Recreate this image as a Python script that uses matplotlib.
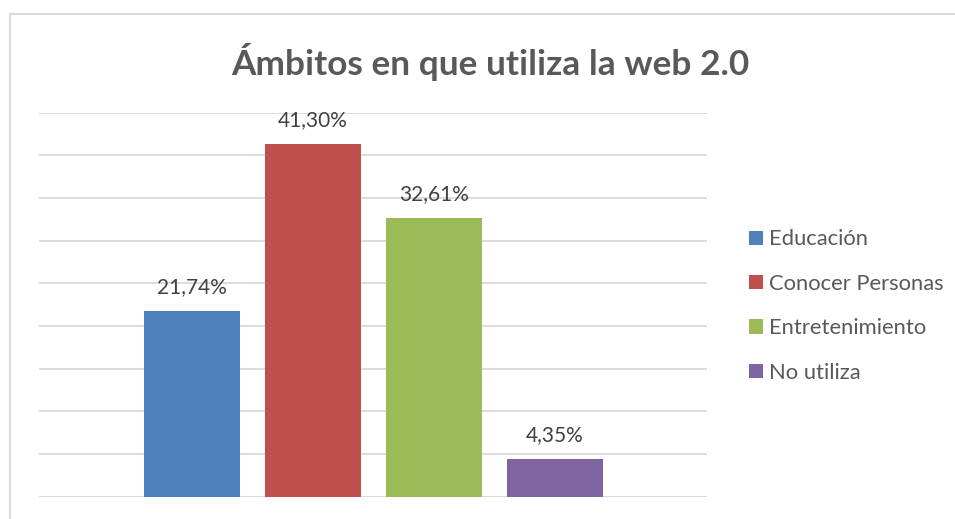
import matplotlib.pyplot as plt
from matplotlib.patches import Rectangle

categorias = ["Educación", "Conocer Personas", "Entretenimiento", "No utiliza"]
valores = [21.74, 41.30, 32.61, 4.35]
etiquetas = ["21,74%", "41,30%", "32,61%", "4,35%"]
colores = ["#4F81BD", "#C0504D", "#9BBB59", "#8064A2"]
titulo = "Ámbitos en que utiliza la web 2.0"

W, H = 955, 519
plt.rcParams['font.family'] = ['Lato', 'DejaVu Sans']

fig = plt.figure(figsize=(W / 100, H / 100), dpi=100)
fig.patch.set_facecolor("white")

# plot area in pixels: x 39..707, y 112.5..496.5
ax = fig.add_axes([39 / W, (H - 496.5) / H, (707 - 39) / W, (496.5 - 112.5) / H])

for i, (cat, v, c) in enumerate(zip(categorias, valores, colores)):
    ax.bar(i, v, width=0.79, color=c, label=cat, zorder=3)
    ax.annotate(etiquetas[i], (i, v), xytext=(0, 13), textcoords="offset points",
                ha="center", va="baseline", fontsize=15, color="#404040")

ax.set_xlim(-1.264, 4.256)
ax.set_ylim(0, 45)
ax.set_yticks(range(0, 46, 5))
ax.grid(axis="y", color="#D9D9D9", lw=1.3, zorder=0)
ax.tick_params(left=False, bottom=False, labelleft=False, labelbottom=False)
for s in ax.spines.values():
    s.set_visible(False)

fig.text(490 / W, 1 - 62 / H, titulo, ha="center", va="center",
         fontsize=25.4, fontweight="bold", color="#595959")

ax.legend(loc="center left", bbox_to_anchor=(749 / W, 1 - 306 / H),
          bbox_transform=fig.transFigure, frameon=False, fontsize=15.8,
          handlelength=0.62, handleheight=0.62, handletextpad=0.28,
          labelspacing=1.11, labelcolor="#595959", borderpad=0, borderaxespad=0)

fig.add_artist(Rectangle((10 / W, -0.1), 1.1, 1.1 - 14 / H, transform=fig.transFigure,
                         fill=False, ec="#D9D9D9", lw=1.5))

fig.savefig("out.png", dpi=100)
